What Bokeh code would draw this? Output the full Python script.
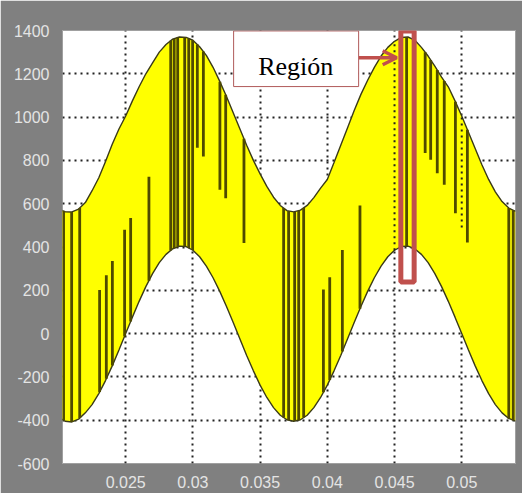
import numpy as np
from bokeh.plotting import figure
from bokeh.models import Range1d, FixedTicker, BoxAnnotation, Arrow, OpenHead, Label
from bokeh.embed import file_html
from bokeh.resources import INLINE

# Envelope samples (time in s, voltage in V)
t_env = [0.0200, 0.0205, 0.0210, 0.0215, 0.0220, 0.0225, 0.0230, 0.0235, 0.0240, 0.0245,
         0.0250, 0.0255, 0.0260, 0.0265, 0.0270, 0.0275, 0.0280, 0.0285, 0.0290, 0.0295,
         0.0300, 0.0305, 0.0310, 0.0315, 0.0320, 0.0325, 0.0330, 0.0335, 0.0340, 0.0345,
         0.0350, 0.0355, 0.0360, 0.0365, 0.0370, 0.0375, 0.0380, 0.0385, 0.0390, 0.0395,
         0.0400, 0.0405, 0.0410, 0.0415, 0.0420, 0.0425, 0.0430, 0.0435, 0.0440, 0.0445,
         0.0450, 0.0455, 0.0460, 0.0465, 0.0470, 0.0475, 0.0480, 0.0485, 0.0490, 0.0495,
         0.0500, 0.0505, 0.0510, 0.0515, 0.0520, 0.0525, 0.0530, 0.0535, 0.0540]
upper_env = [575, 563, 562, 575, 605, 660, 720, 795, 875, 945,
             1005, 1075, 1140, 1200, 1250, 1300, 1335, 1360, 1370, 1368,
             1355, 1325, 1285, 1230, 1165, 1095, 1020, 945, 870, 800,
             738, 680, 630, 592, 568, 562, 570, 592, 628, 672,
             712, 790, 870, 950, 1030, 1105, 1170, 1230, 1282, 1322,
             1350, 1368, 1370, 1356, 1322, 1282, 1235, 1185, 1140, 1075,
             1005, 930, 855, 780, 712, 655, 610, 580, 565]
lower_env = [-385, -405, -408, -395, -366, -328, -277, -217, -149, -76,
             0, 76, 149, 217, 277, 328, 366, 392, 404, 402,
             385, 355, 312, 258, 195, 125, 51, -25, -101, -172,
             -238, -295, -342, -377, -398, -405, -398, -377, -342, -295,
             -238, -172, -101, -25, 51, 125, 195, 258, 312, 355,
             385, 402, 404, 392, 366, 328, 277, 217, 149, 76,
             0, -76, -149, -217, -277, -328, -366, -392, -404]

# Switching edges spanning the whole band
full_t = [0.02038, 0.02098, 0.02158, 0.02835, 0.02861, 0.02887, 0.02939, 0.02969, 0.02998,
          0.03675, 0.03712, 0.03757, 0.03787, 0.03824, 0.04590, 0.05350, 0.05383]
# Edges hanging from the upper envelope down to a level
hang_t = [0.03033, 0.03078, 0.03201, 0.03244, 0.03380, 0.04728, 0.04769, 0.04818, 0.04870,
          0.04953, 0.05042]
hang_end = [858, 818, 664, 625, 418, 834, 803, 741, 687, 556, 421]
# Edges rising from the lower envelope up to a level
rise_t = [0.02306, 0.02356, 0.02401, 0.02492, 0.02537, 0.02673, 0.03971, 0.04018, 0.04112, 0.04243]
rise_end = [201, 270, 335, 480, 534, 725, 204, 260, 386, 592]
# Dotted traces seen inside the band
dot_t = [0.045, 0.050]
dot_bottom = [385, 490]

x_ticks = [0.025, 0.03, 0.035, 0.04, 0.045, 0.05]
x_tick_labels = ["0.025", "0.03", "0.035", "0.04", "0.045", "0.05"]
y_ticks = [-600, -400, -200, 0, 200, 400, 600, 800, 1000, 1200, 1400]
y_tick_labels = ["-600", "-400", "-200", "0", "200", "400", "600", "800", "1000", "1200", "1400"]

annotation_text = "Región"

p = figure(width=522, height=493, output_backend="svg", toolbar_location=None,
           x_range=Range1d(0.0203, 0.0540), y_range=Range1d(-600, 1400),
           min_border_left=62, min_border_right=7, min_border_top=30, min_border_bottom=30)
p.background_fill_color = "white"
p.border_fill_color = "#808080"
p.outline_line_color = "#a0a0a0"
p.outline_line_width = 1

for ax, ticks, labels in ((p.xaxis, x_ticks, x_tick_labels), (p.yaxis, y_ticks, y_tick_labels)):
    ax.ticker = FixedTicker(ticks=ticks)
    ax.major_label_overrides = dict(zip(ticks, labels))
    ax.axis_line_color = None
    ax.major_tick_line_color = None
    ax.minor_tick_line_color = None
    ax.major_label_text_font = "Liberation Sans"
    ax.major_label_text_font_size = "16px"
    ax.major_label_text_color = "#e4e4e4"
p.xaxis.major_label_standoff = 6
p.yaxis.major_label_standoff = 7

p.xgrid.ticker = FixedTicker(ticks=x_ticks)
p.ygrid.ticker = FixedTicker(ticks=y_ticks)
for g in (p.xgrid, p.ygrid):
    g.grid_line_color = "#222222"
    g.grid_line_dash = "2 4"
    g.grid_line_width = 2

# Yellow band between the envelopes
p.varea(x=t_env, y1=lower_env, y2=upper_env, fill_color="#ffff00")
p.line(t_env, upper_env, line_color="#3a3a18", line_width=1.4)
p.line(t_env, lower_env, line_color="#3a3a18", line_width=1.4)

up_at = lambda t: np.interp(t, t_env, upper_env)
lo_at = lambda t: np.interp(t, t_env, lower_env)

edge_color = "#4f4a00"
p.segment(x0=full_t, y0=lo_at(full_t), x1=full_t, y1=up_at(full_t), line_color=edge_color, line_width=2.8)
p.segment(x0=hang_t, y0=hang_end, x1=hang_t, y1=up_at(hang_t), line_color=edge_color, line_width=2.8)
p.segment(x0=rise_t, y0=lo_at(rise_t), x1=rise_t, y1=rise_end, line_color=edge_color, line_width=2.8)
p.segment(x0=dot_t, y0=dot_bottom, x1=dot_t, y1=up_at(dot_t), line_color="#222222",
          line_width=2, line_dash="2 4")

# Highlighted region and its callout
p.add_layout(BoxAnnotation(left=0.04547, right=0.04646, bottom=238, top=1398,
                           fill_color=None, fill_alpha=0, line_color="#c0504d",
                           line_alpha=1, line_width=5))
p.add_layout(BoxAnnotation(left=0.03303, right=0.04233, bottom=1141, top=1398,
                           fill_color="white", fill_alpha=1, line_color="#b05a5a",
                           line_alpha=1, line_width=1))
p.add_layout(Label(x=0.03765, y=1235, text=annotation_text, text_font="Liberation Serif",
                   text_font_size="26px", text_align="center", text_baseline="alphabetic",
                   text_color="black"))
p.add_layout(Arrow(end=OpenHead(line_color="#c0504d", line_width=3.5, size=14),
                   x_start=0.04235, y_start=1274, x_end=0.04516, y_end=1274,
                   line_color="#c0504d", line_width=3.5))

open("out.html", "w").write(file_html(p, INLINE))
